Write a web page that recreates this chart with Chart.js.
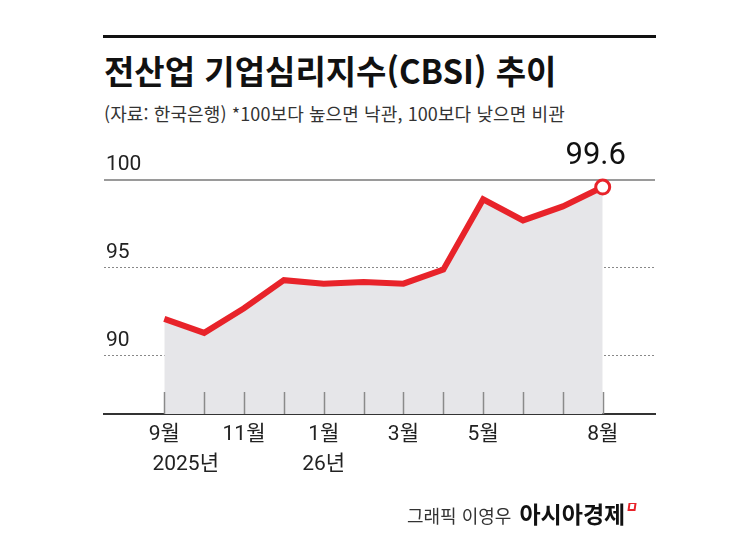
<!DOCTYPE html>
<html lang="ko">
<head>
<meta charset="utf-8">
<script src="https://cdn.jsdelivr.net/npm/chart.js@4.4.1/dist/chart.umd.min.js"></script>
<style>
  html, body { margin: 0; padding: 0; background: #fff; }
  body { width: 745px; height: 558px; position: relative; overflow: hidden; font-family: "Noto Sans CJK KR", "Noto Sans", sans-serif; }
  #topline { position: absolute; left: 103px; top: 35px; width: 553px; height: 3px; background: #111; }
  #title { position: absolute; left: 104px; top: 52px; font-size: 33px; line-height: 36px; font-weight: 700; color: #111; letter-spacing: 0; white-space: nowrap; }
  #sub { position: absolute; left: 104px; top: 101px; font-size: 18px; line-height: 24px; color: #333; letter-spacing: 0.1px; white-space: nowrap; }
  #credit { position: absolute; left: 407px; top: 500px; font-size: 18px; line-height: 26px; color: #333; letter-spacing: 0; white-space: nowrap; }
  #credit b { font-size: 23px; color: #111; margin-left: 8px; letter-spacing: 0; }
  #credit i { display: inline-block; width: 4px; height: 5px; border: 2px solid #e8232a; border-top-width: 1px; vertical-align: 12px; margin-left: 3px; transform: skewX(-8deg); }
  #wrap { position: absolute; left: 0; top: 0; width: 745px; height: 558px; }
</style>
</head>
<body>
<div id="topline"></div>
<div id="title">전산업 기업심리지수(CBSI) 추이</div>
<div id="sub">(자료: 한국은행) *100보다 높으면 낙관, 100보다 낮으면 비관</div>
<div id="wrap"><canvas id="chart"></canvas></div>
<div id="credit">그래픽 이영우<b>아시아경제</b><i></i></div>
<script>
// 월별 전산업 CBSI (2025년 9월 ~ 26년 8월)
const months = ['9월', '10월', '11월', '12월', '1월', '2월', '3월', '4월', '5월', '6월', '7월', '8월'];
const cbsi = [92.1, 91.3, 92.7, 94.3, 94.1, 94.2, 94.1, 94.9, 98.9, 97.7, 98.5, 99.6];

// x축 라벨이 붙는 위치와 라벨
const xTickIdx = [0, 2, 4, 6, 8, 11];
const xTickLabels = [['9월', '\u2003\u20032025년'], ['11월'], ['1월', '26년'], ['3월'], ['5월'], ['8월']];

// y축 눈금
const yTicks = [90, 95, 100];

const RED = '#e8232a';
const FONT = '"Liberation Sans Narrow", Roboto, "Noto Sans CJK KR", sans-serif';

// 매월 작은 눈금선 + 마지막 값 라벨
const extras = {
  id: 'extras',
  afterDatasetsDraw(chart) {
    const { ctx, chartArea, scales: { x, y } } = chart;
    ctx.save();
    ctx.strokeStyle = '#8a8a8a';
    ctx.lineWidth = 1.5;
    months.forEach((m, i) => {
      const px = Math.round(x.getPixelForValue(i)) + 0.5;
      ctx.beginPath();
      ctx.moveTo(px, chartArea.bottom - 22);
      ctx.lineTo(px, chartArea.bottom);
      ctx.stroke();
    });
    const last = cbsi.length - 1;
    ctx.fillStyle = '#111';
    ctx.font = '31px ' + FONT;
    ctx.textAlign = 'center';
    ctx.textBaseline = 'middle';
    ctx.fillText(cbsi[last].toFixed(1), x.getPixelForValue(last) - 7, y.getPixelForValue(cbsi[last]) - 31);
    ctx.restore();
  }
};

new Chart(document.getElementById('chart'), {
  type: 'line',
  data: {
    datasets: [{
      data: cbsi.map((v, i) => ({ x: i, y: v })),
      borderColor: RED,
      borderWidth: 6,
      borderJoinStyle: 'miter',
      backgroundColor: '#e6e6e9',
      fill: 'start',
      tension: 0,
      pointRadius: cbsi.map((v, i) => i === cbsi.length - 1 ? 7 : 0),
      pointBorderWidth: 3,
      pointBackgroundColor: '#fff',
      pointBorderColor: RED
    }]
  },
  options: {
    responsive: true,
    maintainAspectRatio: false,
    animation: false,
    layout: { padding: { left: 104, right: 90, top: 140, bottom: 0 } },
    plugins: { legend: { display: false }, tooltip: { enabled: false } },
    scales: {
      x: {
        type: 'linear',
        min: -1.513,
        max: 12.312,
        afterBuildTicks: s => { s.ticks = xTickIdx.map(v => ({ value: v })); },
        afterFit: s => { s.height = 144; },
        grid: { display: false, drawTicks: false },
        border: { display: true, color: '#333', width: 2 },
        ticks: {
          autoSkip: false,
          maxRotation: 0,
          padding: 6,
          color: '#222',
          font: { family: FONT, size: 21, lineHeight: '30px' },
          callback: v => xTickLabels[xTickIdx.indexOf(v)]
        }
      },
      y: {
        min: 86.68,
        max: 102.28,
        afterBuildTicks: s => { s.ticks = yTicks.map(v => ({ value: v })); },
        afterFit: s => { s.width = 0; },
        border: { display: false, dash: c => c.tick && c.tick.value === 100 ? [] : [2, 2] },
        grid: {
          drawTicks: false,
          color: c => c.tick && c.tick.value === 100 ? '#9a9a9a' : '#888',
          lineWidth: c => c.tick && c.tick.value === 100 ? 2 : 1
        },
        ticks: {
          mirror: true,
          padding: 2,
          labelOffset: -15,
          color: '#222',
          font: { family: FONT, size: 21 }
        }
      }
    }
  },
  plugins: [extras]
});
</script>
</body>
</html>
